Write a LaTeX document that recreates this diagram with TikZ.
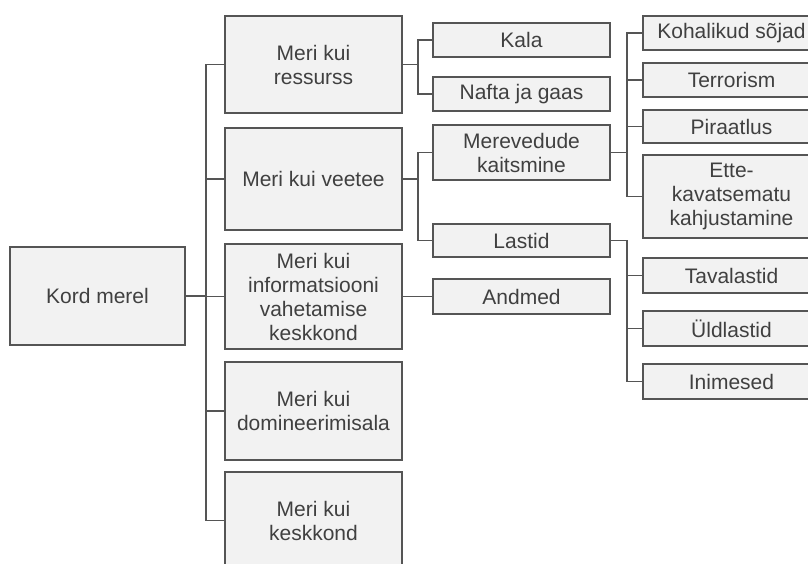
\documentclass[tikz,border=0pt]{standalone}
\usepackage{fontspec}
\setmainfont{Liberation Sans}
\usepackage{xcolor}
\usepackage{tikz}
\usetikzlibrary{calc, positioning}

\definecolor{boxfill}{HTML}{F2F2F2}
\definecolor{boxline}{HTML}{555555}
\definecolor{textgray}{HTML}{404040}

\begin{document}
\begin{tikzpicture}[x=1pt, y=-1pt,
    box/.style={draw=boxline, line width=1.8pt, fill=boxfill, text=textgray,
        align=center, inner sep=2pt, font=\fontsize{21}{24}\selectfont},
    conn/.style={draw=boxline, line width=1.5pt}]
    \useasboundingbox (0,0) rectangle (808,563);
    \clip (0,0) rectangle (808,563);

    % 1. Juur
    \node[box, minimum width=175pt, minimum height=98pt] (root) at (97.5,296) {Kord merel};

    % 2. Esimene tase
    \node[box, minimum width=177pt, minimum height=97pt] (ressurss) at (313.5,64.5) {Meri kui\\ressurss};
    \node[box, minimum width=177pt, minimum height=102pt] (veetee) at (313.5,179) {Meri kui veetee};
    \node[box, minimum width=177pt, minimum height=105pt] (info) at (313.5,296.5) {Meri kui\\informatsiooni\\vahetamise\\keskkond};
    \node[box, minimum width=177pt, minimum height=98pt] (domin) at (313.5,411) {Meri kui\\domineerimisala};
    \node[box, minimum width=177pt, minimum height=97pt] (keskk) at (313.5,520.5) {Meri kui\\keskkond};

    % 3. Teine tase
    \node[box, minimum width=177pt, minimum height=34pt] (kala) at (521.5,40) {Kala};
    \node[box, minimum width=177pt, minimum height=34pt] (nafta) at (521.5,94) {Nafta ja gaas};
    \node[box, minimum width=177pt, minimum height=55pt] (vedu) at (521.5,152.5) {Merevedude\\kaitsmine};
    \node[box, minimum width=177pt, minimum height=33pt] (lastid) at (521.5,240.5) {Lastid};
    \node[box, minimum width=177pt, minimum height=35pt] (andmed) at (521.5,296.5) {Andmed};

    % 4. Kolmas tase
    \node[box, minimum width=177pt, minimum height=34pt] (sojad) at (731.5,33) {Kohalikud sõjad};
    \node[box, minimum width=177pt, minimum height=34pt] (terror) at (731.5,80) {Terrorism};
    \node[box, minimum width=177pt, minimum height=33pt] (piraat) at (731.5,126.5) {Piraatlus};
    \node[box, minimum width=177pt, minimum height=83pt] (ette) at (731.5,196.5) {Ette-\\kavatsematu\\kahjustamine};
    \node[box, minimum width=177pt, minimum height=35pt] (tava) at (731.5,275.5) {Tavalastid};
    \node[box, minimum width=177pt, minimum height=35pt] (yld) at (731.5,328.5) {Üldlastid};
    \node[box, minimum width=177pt, minimum height=35pt] (inim) at (731.5,381.5) {Inimesed};

    % 5. Ühendused
    \foreach \n in {ressurss, veetee, info, domin, keskk} {
        \draw[conn] (root.east) -- ++(20,0) |- (\n.west);
    }
    \foreach \n in {kala, nafta} {
        \draw[conn] (ressurss.east) -- ++(15,0) |- (\n.west);
    }
    \foreach \n in {vedu, lastid} {
        \draw[conn] (veetee.east) -- ++(15,0) |- (\n.west);
    }
    \draw[conn] (info.east) -- (andmed.west);
    \foreach \n in {sojad, terror, piraat, ette} {
        \draw[conn] (vedu.east) -- ++(16,0) |- (\n.west);
    }
    \foreach \n in {tava, yld, inim} {
        \draw[conn] (lastid.east) -- ++(16,0) |- (\n.west);
    }

\end{tikzpicture}
\end{document}
